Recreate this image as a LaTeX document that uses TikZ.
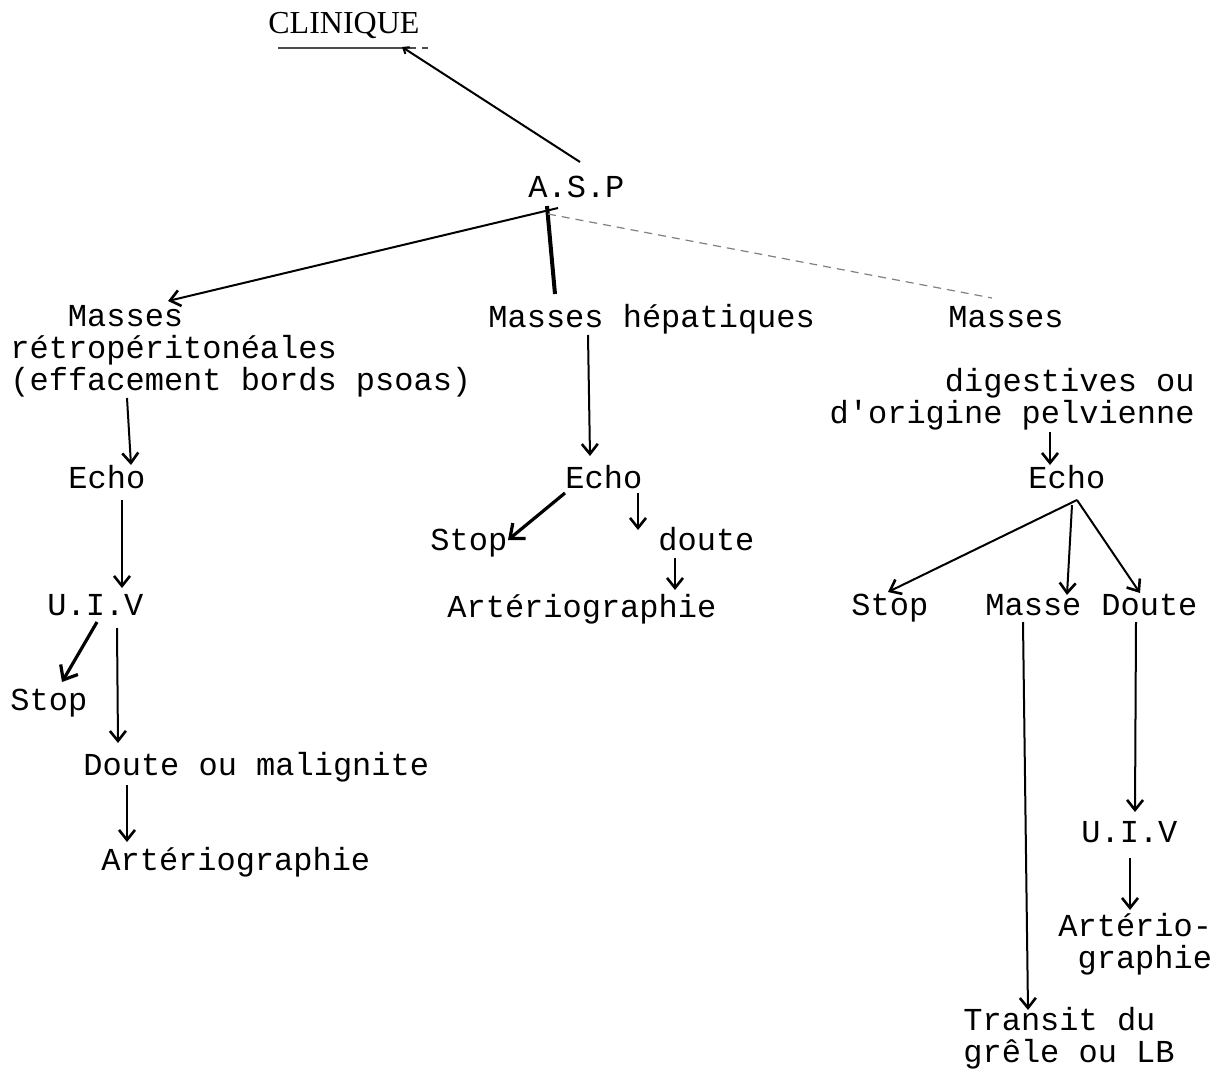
\documentclass[tikz,border=0pt]{standalone}
\usepackage{fontspec}
\setmainfont{Liberation Serif}
\setmonofont{Liberation Mono}
\usetikzlibrary{arrows.meta,calc}

\begin{document}
\begin{tikzpicture}[x=0.5pt,y=-0.5pt]
	\tikzstyle{every node}=[font=\ttfamily\fontsize{16}{15.8}\selectfont, inner sep=0, anchor=base west]
	\tikzstyle{fleche}=[line width=1pt, -{Straight Barb[length=5pt,width=8pt,line width=1.3pt]}]
	\tikzstyle{lourd}=[line width=1.6pt, -{Straight Barb[length=6pt,width=10pt]}]
	\tikzstyle{gris}=[line width=0.6pt, color=gray, dash pattern=on 4pt off 3pt]
	\useasboundingbox (0,0) rectangle (1216,1070);
	\node (clin) [font=\rmfamily\fontsize{16}{19}\selectfont] at (268,34) {CLINIQUE};
	\node (asp) at (528,198) {A.S.P};
	\node (mrg) [align=left] at (10,390) {\hspace*{1.8em}Masses\\rétropéritonéales\\(effacement bords psoas)};
	\node (mhep) at (488,327) {Masses hépatiques};
	\node (mdr) at (948,327) {Masses};
	\node (dig) [align=right, anchor=base east] at (1195,423) {digestives ou\\d'origine pelvienne};
	\node (echoG) at (68,488) {Echo};
	\node (echoM) at (565,488) {Echo};
	\node (echoD) at (1028,488) {Echo};
	\node (uivG) at (47,615) {U.I.V};
	\node (stopG) at (10,710) {Stop};
	\node (dmal) at (83,775) {Doute ou malignite};
	\node (artG) at (101,870) {Artériographie};
	\node (stopM) at (430,550) {Stop};
	\node (douteM) at (658,550) {doute};
	\node (artM) at (447,617) {Artériographie};
	\node (stopD) at (851,615) {Stop};
	\node (masse) at (985,615) {Masse};
	\node (douteD) at (1101,615) {Doute};
	\node (uivD) at (1081,842) {U.I.V};
	\node (artD) [align=right] at (1058,968) {Artério-\\graphie};
	\node (trans) [align=left] at (963,1062) {Transit du\\grêle ou LB};
	\draw [line width=0.8pt, color=gray!60!black] ($(clin.base west)+(10,14)$) -- ($(clin.base west)+(142,14)$);
	\draw [line width=0.8pt, color=gray!60!black, dashed] ($(clin.base west)+(142,14)$) -- ($(clin.base west)+(165,14)$);
	\draw [line width=1pt, {Straight Barb[length=2.5pt,width=4pt]}-] ($(clin.base west)+(134,13)$) -- ($(asp.base west)+(52,-36)$);
	\draw [fleche] ($(asp.base west)+(30,10)$) -- ($(mrg.base west)+(158,-89)$);
	\draw [line width=2pt] ($(asp.base west)+(19,8)$) -- ($(mhep.base west)+(67,-33)$);
	\draw [gris] ($(asp.base west)+(20,16)$) -- ($(mdr.base west)+(44,-29)$);
	\draw [fleche] ($(mrg.base west)+(117,8)$) -- ($(echoG.base west)+(63,-23)$);
	\draw [fleche] ($(mhep.base west)+(100,8)$) -- ($(echoM.base west)+(25,-32)$);
	\draw [fleche] ($(dig.base east)+(-145,9)$) -- ($(echoD.base west)+(22,-23)$);
	\draw [fleche] ($(echoG.base west)+(54,12)$) -- ($(uivG.base west)+(75,-27)$);
	\draw [lourd] ($(uivG.base west)+(50,7)$) -- ($(stopG.base west)+(52,-28)$);
	\draw [fleche] ($(uivG.base west)+(70,13)$) -- ($(dmal.base west)+(35,-32)$);
	\draw [fleche] ($(dmal.base west)+(44,10)$) -- ($(artG.base west)+(26,-28)$);
	\draw [lourd] ($(echoM.base west)+(0,5)$) -- ($(stopM.base west)+(78,-10)$);
	\draw [fleche] ($(echoM.base west)+(73,5)$) -- ($(douteM.base west)+(-20,-20)$);
	\draw [fleche] ($(douteM.base west)+(17,8)$) -- ($(artM.base west)+(228,-27)$);
	\draw [fleche] ($(echoD.base west)+(49,12)$) -- ($(stopD.base west)+(37,-23)$);
	\draw [fleche] ($(echoD.base west)+(44,17)$) -- ($(masse.base west)+(82,-20)$);
	\draw [fleche] ($(echoD.base west)+(49,12)$) -- ($(douteD.base west)+(39,-22)$);
	\draw [fleche] ($(masse.base west)+(38,7)$) -- ($(trans.base west)+(65,-52)$);
	\draw [fleche] ($(douteD.base west)+(35,7)$) -- ($(uivD.base west)+(54,-30)$);
	\draw [fleche] ($(uivD.base west)+(49,16)$) -- ($(artD.base west)+(72,-58)$);
\end{tikzpicture}
\end{document}
